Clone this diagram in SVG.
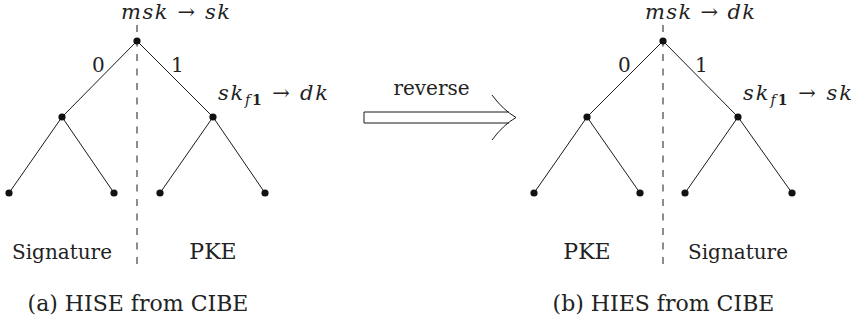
<svg xmlns="http://www.w3.org/2000/svg" width="860" height="321" viewBox="0 0 860 321">
<style>
.edge{stroke:#1a1a1a;stroke-width:1;fill:none}
.dash{stroke:#1a1a1a;stroke-width:1;stroke-dasharray:7 7.5;fill:none}
.dot{fill:#111}
</style>
<rect width="860" height="321" fill="#fff"/>
<g id="connectors">
<line class="dash" x1="137" y1="25" x2="137" y2="268"/>
<line class="edge" x1="137" y1="41" x2="62" y2="117"/>
<line class="edge" x1="137" y1="41" x2="213" y2="117"/>
<line class="edge" x1="62" y1="117" x2="9" y2="193"/>
<line class="edge" x1="62" y1="117" x2="114" y2="193"/>
<line class="edge" x1="213" y1="117" x2="160" y2="193"/>
<line class="edge" x1="213" y1="117" x2="265" y2="193"/>
<line class="dash" x1="663" y1="25" x2="663" y2="268"/>
<line class="edge" x1="663" y1="41" x2="587" y2="117"/>
<line class="edge" x1="663" y1="41" x2="738" y2="117"/>
<line class="edge" x1="587" y1="117" x2="534" y2="193"/>
<line class="edge" x1="587" y1="117" x2="640" y2="193"/>
<line class="edge" x1="738" y1="117" x2="685" y2="193"/>
<line class="edge" x1="738" y1="117" x2="792" y2="193"/>
</g>
<g font-family="DejaVu Serif, Liberation Serif, serif" fill="#222">
<g id="treeA">
<circle class="dot" cx="137" cy="41" r="3.6"/>
<circle class="dot" cx="62" cy="117" r="3.6"/>
<circle class="dot" cx="213" cy="117" r="3.6"/>
<circle class="dot" cx="9" cy="193" r="3.6"/>
<circle class="dot" cx="114" cy="193" r="3.6"/>
<circle class="dot" cx="160" cy="193" r="3.6"/>
<circle class="dot" cx="265" cy="193" r="3.6"/>
<text x="121" y="19" font-size="21" font-style="italic" textLength="109" lengthAdjust="spacing">msk <tspan font-style="normal">→</tspan> sk</text>
<text x="92" y="72" font-size="20">0</text>
<text x="171" y="72" font-size="20">1</text>
<text x="218" y="100" font-size="21" font-style="italic" textLength="110" lengthAdjust="spacing">sk<tspan font-size="14" dy="5">f</tspan><tspan font-size="14" font-weight="bold" font-style="normal">1</tspan><tspan dy="-5" font-style="normal"> → </tspan>dk</text>
<text x="62" y="259" font-size="20" text-anchor="middle">Signature</text>
<text x="213" y="259" font-size="22" text-anchor="middle">PKE</text>
<text x="138" y="311" font-size="22" text-anchor="middle">(a) HISE from CIBE</text>
</g>
<g id="arrow">
<path class="edge" d="M509,112 H364 V123 H509" fill="#fff"/>
<path class="edge" d="M492,95 Q503,110 516,117.5 Q503,125 492,140"/>
<text x="431.5" y="95" font-size="20" text-anchor="middle">reverse</text>
</g>
<g id="treeB">
<circle class="dot" cx="663" cy="41" r="3.6"/>
<circle class="dot" cx="587" cy="117" r="3.6"/>
<circle class="dot" cx="738" cy="117" r="3.6"/>
<circle class="dot" cx="534" cy="193" r="3.6"/>
<circle class="dot" cx="640" cy="193" r="3.6"/>
<circle class="dot" cx="685" cy="193" r="3.6"/>
<circle class="dot" cx="792" cy="193" r="3.6"/>
<text x="645" y="19" font-size="21" font-style="italic" textLength="110" lengthAdjust="spacing">msk <tspan font-style="normal">→</tspan> dk</text>
<text x="618" y="72" font-size="20">0</text>
<text x="695" y="72" font-size="20">1</text>
<text x="743" y="100" font-size="21" font-style="italic" textLength="109" lengthAdjust="spacing">sk<tspan font-size="14" dy="5">f</tspan><tspan font-size="14" font-weight="bold" font-style="normal">1</tspan><tspan dy="-5" font-style="normal"> → </tspan>sk</text>
<text x="587" y="259" font-size="22" text-anchor="middle">PKE</text>
<text x="738" y="259" font-size="20" text-anchor="middle">Signature</text>
<text x="663.5" y="311" font-size="22" text-anchor="middle">(b) HIES from CIBE</text>
</g>
</g>
</svg>
